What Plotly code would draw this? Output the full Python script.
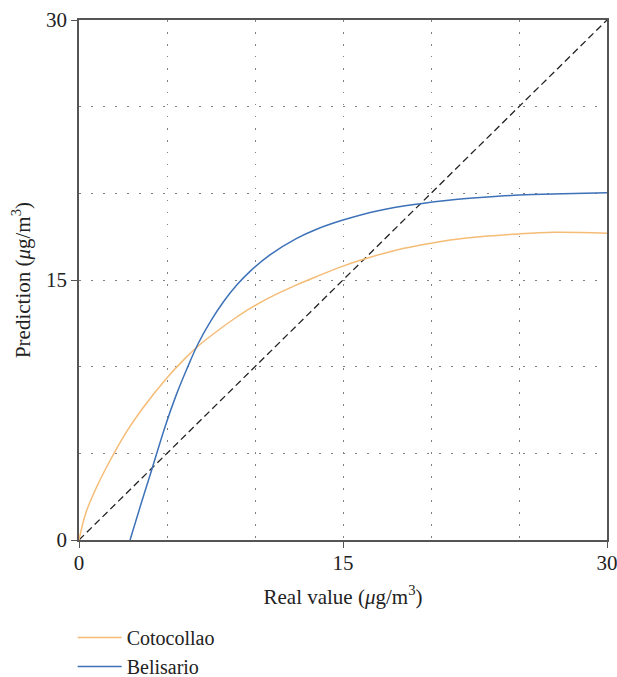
import plotly.graph_objects as go

# Data
coto_x = [0, 0.4, 1.0, 1.72, 2.67, 3.62, 5.04, 6.0, 6.84, 7.78, 8.8, 9.7, 10.85, 12.37, 13.5, 15.0, 16.35, 18.0, 20.0, 22.0, 25.0, 27.0, 30.0]
coto_y = [0, 1.6, 3.05, 4.5, 6.2, 7.6, 9.4, 10.45, 11.25, 12.0, 12.75, 13.35, 14.0, 14.72, 15.2, 15.8, 16.25, 16.72, 17.12, 17.42, 17.66, 17.75, 17.7]

beli_x = [2.9, 3.5, 4.13, 4.89, 5.5, 6.12, 6.78, 7.5, 8.25, 9.0, 9.72, 10.85, 12.37, 13.5, 15.0, 17.0, 19.4, 21.0, 23.0, 25.0, 27.5, 30.0]
beli_y = [0, 2.0, 4.04, 6.54, 8.3, 9.85, 11.35, 12.65, 13.8, 14.75, 15.5, 16.45, 17.4, 17.93, 18.46, 19.0, 19.4, 19.6, 19.77, 19.9, 19.98, 20.04]

diag_x = [0, 30]
diag_y = [0, 30]

tick_vals = [0, 15, 30]
tick_text = ["0", "15", "30"]

FONT = "Liberation Serif, Times New Roman, serif"
GRID = "#808080"
AXIS = "#555555"
TXT = "#222222"

fig = go.Figure()
fig.add_trace(go.Scatter(x=diag_x, y=diag_y, mode="lines", showlegend=False,
                         line=dict(color="#222222", width=1.3, dash="7px,4px")))
fig.add_trace(go.Scatter(x=coto_x, y=coto_y, mode="lines", name="Cotocollao",
                         line=dict(color="#f5bc76", width=1.5, shape="spline", smoothing=1.0)))
fig.add_trace(go.Scatter(x=beli_x, y=beli_y, mode="lines", name="Belisario",
                         line=dict(color="#3d72b8", width=1.5, shape="spline", smoothing=1.0)))

axis_common = dict(
    range=[0, 30], tickvals=tick_vals, ticktext=tick_text,
    showline=True, linecolor=AXIS, linewidth=1.5, mirror=True,
    ticks="outside", ticklen=6, tickcolor=AXIS, tickwidth=1.2,
    showgrid=True, gridcolor=GRID, gridwidth=1, griddash="1.5px,10.5px",
    minor=dict(dtick=5, tick0=0, showgrid=True, gridcolor=GRID, gridwidth=1,
               griddash="1.5px,10.5px", ticks=""),
    zeroline=False, automargin=False, ticklabeloverflow="allow",
    tickfont=dict(family=FONT, size=21, color=TXT),
)

fig.update_layout(
    width=617, height=677,
    margin=dict(l=79, r=10, t=20, b=137),
    paper_bgcolor="white", plot_bgcolor="white",
    font=dict(family=FONT, size=21, color=TXT),
    xaxis=dict(axis_common, ticklabelstandoff=-3,
               title=dict(text="Real value (<i>μ</i>g/m<sup>3</sup>)",
                          font=dict(family=FONT, size=21, color=TXT))),
    yaxis=dict(axis_common,
               title=dict(text="Prediction (<i>μ</i>g/m<sup>3</sup>)",
                          font=dict(family=FONT, size=21, color=TXT), standoff=10)),
    legend=dict(xref="paper", yref="container", x=-0.012, xanchor="left",
                y=1 - 618 / 677, yanchor="top",
                bgcolor="rgba(0,0,0,0)", font=dict(family=FONT, size=20, color=TXT),
                tracegroupgap=0, itemwidth=44),
    showlegend=True,
)

fig.write_html("out.html")
